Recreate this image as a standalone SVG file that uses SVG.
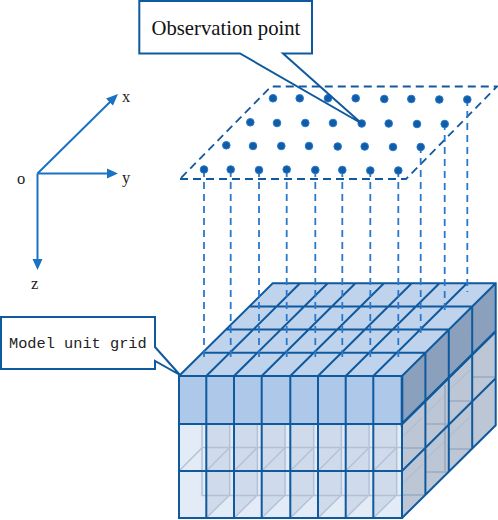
<svg xmlns="http://www.w3.org/2000/svg" width="498" height="520" viewBox="0 0 498 520">
<style>
.g{fill:none;stroke:#0f5a9e;stroke-width:2;stroke-linejoin:miter}
.gh{fill:none;stroke:#b4c2d8;stroke-width:1.5}
.ghs{fill:none;stroke:#98aac2;stroke-width:1.6}
.fa{fill:none;stroke:#b2bfd2;stroke-width:1.2}
.sh{fill:#cfdaea}
.dv{fill:none;stroke:#2a78cc;stroke-width:1.8;stroke-dasharray:7 5}
.pl{fill:none;stroke:#12589f;stroke-width:1.8;stroke-dasharray:8 5}
.d{fill:#0f5ca8;stroke:#2a78cc;stroke-width:1}
.ax{fill:none;stroke:#1a72c4;stroke-width:2}
.ah{fill:#1a72c4}
.lb{fill:#222;font-family:"Liberation Serif",serif;font-size:16.5px}
.ml{fill:#222;font-family:"Liberation Mono",monospace;font-size:15.3px}
.cb{fill:#fff}
.cl{fill:none;stroke:#0f5a9e;stroke-width:2}
</style>
<g id="axes">
<path class="ax" d="M37.5 173.5L113 99M37.5 173.5H110M37.5 173.5V262"/>
<path class="ah" d="M118 94L113 105.500L106 98.500ZM118 173.500L107 178.500V168.500ZM37.500 270L32.500 259H42.500Z"/>
<text class="lb" x="122" y="102">x</text>
<text class="lb" x="122" y="183">y</text>
<text class="lb" x="17" y="184">o</text>
<text class="lb" x="31" y="289">z</text>
</g>
<g id="model-grid">
<rect x="179" y="424" width="223" height="94" fill="#e3ebf7"/>
<path class="sh" d="M206.3 424H229.7V495L206.3 518ZM234 424H257.4V495L234 518ZM261.7 424H285.1V495L261.7 518ZM290.3 424H313.7V495L290.3 518ZM318 424H341.4V495L318 518ZM345.7 424H369.1V495L345.7 518ZM373.3 424H396.7V495L373.3 518Z"/>
<path class="gh" d="M202 424V495.5H402M202 447.5H402M229.7 424V495M257.4 424V495M285.1 424V495M313.7 424V495M341.4 424V495M369.1 424V495M396.7 424V495M179 471L202.4 447.5M206.3 471L229.7 447.5M234 471L257.4 447.5M261.7 471L285.1 447.5M290.3 471L313.7 447.5M318 471L341.4 447.5M345.7 471L369.1 447.5M373.3 471L396.7 447.5M206.3 518L229.7 495M234 518L257.4 495M261.7 518L285.1 495M290.3 518L313.7 495M318 518L341.4 495M345.7 518L369.1 495M373.3 518L396.7 495"/>
<polygon points="402,424 495.7,331.3 495.7,425.3 402,518" fill="#bcc6d4"/>
<path class="fa" d="M402 437L423 417M425.4 414L445 395M425 460L445 441M449 390L470 370M449 437L470 417M402 484L423 464"/>
<path class="ghs" d="M402 495H425.4M402 448H425.4M425.4 472H448.8M425.4 424H448.8M448.8 449H472.2M448.8 401H472.2M472.2 377H495.7M445 385V471"/>
<polygon points="179,376 272.7,283.3 495.700,283.3 402,376" fill="#c0d3ec"/>
<rect x="179" y="376" width="223" height="48" fill="#adc8e9"/>
<polygon points="402,376 495.700,283.3 495.700,331.3 402,424" fill="#8aa0bc"/>
<path class="g" d="M179 376H402V518H179ZM179 424H402M179 471H402M206.3 376V518M234 376V518M261.7 376V518M290.3 376V518M318 376V518M345.7 376V518M373.3 376V518"/>
<path class="g" d="M179 376L272.7 283.3H495.7V425.3L402 518M202.4 352.8H425.4V494.8M225.8 329.6H448.8V471.6M249.2 306.4H472.2V448.4M206.3 376L300 283.3M234 376L327.7 283.3M261.7 376L355.4 283.3M290.3 376L384 283.3M318 376L411.7 283.3M345.7 376L439.4 283.3M373.3 376L467 283.3M402 376L495.7 283.3M402 424L495.7 331.3M402 471L495.7 378.3"/>
<path d="M402 376V424L495.7 331.3" fill="none" stroke="#0f5a9e" stroke-width="2.6"/>
</g>
<g id="observation-plane">
<polygon class="pl" points="180,179 406,179 497,86.5 271,86.5"/>
</g>
<g id="connectors">
<path class="dv" d="M204 170V362M230.7 170V362M259 170V362M286.7 170V362M315.3 170V362M342.3 170V362M370.3 170V362M398.3 170V362M420.7 146V338M444.7 123V315M467.3 99V292"/>
</g>
<g id="observation-points">
<circle class="d" cx="273" cy="98.3" r="3.8"/><circle class="d" cx="299.7" cy="98.3" r="3.8"/><circle class="d" cx="328" cy="98.3" r="3.8"/><circle class="d" cx="355.7" cy="98.3" r="3.8"/><circle class="d" cx="384.3" cy="99" r="3.8"/><circle class="d" cx="411.3" cy="99" r="3.8"/><circle class="d" cx="439.3" cy="99.5" r="3.8"/><circle class="d" cx="467.3" cy="99.5" r="3.8"/>
<circle class="d" cx="250.3" cy="122.3" r="3.8"/><circle class="d" cx="277" cy="123" r="3.8"/><circle class="d" cx="305.3" cy="123" r="3.8"/><circle class="d" cx="333" cy="123" r="3.8"/><circle class="d" cx="361.7" cy="123.5" r="3.8"/><circle class="d" cx="388.7" cy="123.5" r="3.8"/><circle class="d" cx="417" cy="124" r="3.8"/><circle class="d" cx="444.7" cy="124" r="3.8"/>
<circle class="d" cx="226.3" cy="145.3" r="3.8"/><circle class="d" cx="253" cy="146" r="3.8"/><circle class="d" cx="281.3" cy="146" r="3.8"/><circle class="d" cx="309" cy="146" r="3.8"/><circle class="d" cx="337.7" cy="146.5" r="3.8"/><circle class="d" cx="364.7" cy="146.5" r="3.8"/><circle class="d" cx="393" cy="147" r="3.8"/><circle class="d" cx="420.7" cy="147" r="3.8"/>
<circle class="d" cx="204" cy="169.5" r="3.8"/><circle class="d" cx="230.7" cy="169.5" r="3.8"/><circle class="d" cx="259" cy="170" r="3.8"/><circle class="d" cx="286.7" cy="169.5" r="3.8"/><circle class="d" cx="315.3" cy="170" r="3.8"/><circle class="d" cx="342.3" cy="170" r="3.8"/><circle class="d" cx="370.3" cy="170.5" r="3.8"/><circle class="d" cx="398.3" cy="170.5" r="3.8"/>
</g>
<g id="callout-observation">
<rect class="cb" x="139" y="1" width="173" height="52.5"/>
<path class="cl" d="M240 53.5H139.3V1H312V53.5H283L361.7 123.5Z"/>
<text x="151.5" y="35" font-family="'Liberation Serif',serif" font-size="20.7" fill="#111">Observation point</text>
</g>
<g id="callout-model">
<rect class="cb" x="1" y="317" width="154" height="52"/>
<path class="cl" d="M155 347V317H1V369H155V361L180 375Z"/>
<text class="ml" x="9" y="348">Model unit grid</text>
</g>
</svg>
